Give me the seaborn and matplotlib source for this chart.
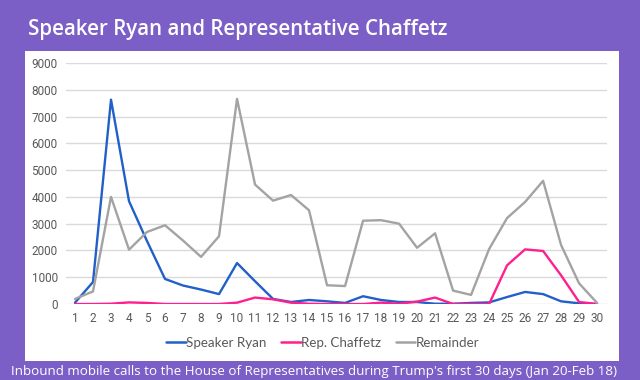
import numpy as np
import pandas as pd
import matplotlib
matplotlib.use("Agg")
import matplotlib.pyplot as plt
from matplotlib.patches import Rectangle
from matplotlib.lines import Line2D
import seaborn as sns

days = list(range(1, 31))

speaker_ryan = [50, 820, 7630, 3840, 2350, 935, 690, 540, 370, 1530,
                850, 190, 75, 150, 100, 40, 290, 150, 75, 75,
                10, 10, 40, 60, 260, 450, 370, 100, 25, 0]
rep_chaffetz = [0, 0, 10, 60, 40, 0, 0, 0, 0, 50,
                240, 175, 50, 10, 0, 0, 0, 50, 10, 90,
                240, 0, 0, 0, 1445, 2040, 1980, 1070, 75, 0]
remainder = [190, 470, 4000, 2030, 2690, 2940, 2370, 1760, 2530, 7660,
             4460, 3860, 4070, 3500, 700, 670, 3110, 3130, 3000, 2100,
             2640, 500, 340, 2050, 3210, 3810, 4600, 2200, 770, 40]

series_names = ["Speaker Ryan", "Rep. Chaffetz", "Remainder"]
series_colors = ["#2160C8", "#FF1F8E", "#A3A3A3"]

title_text = "Speaker Ryan and Representative Chaffetz"
caption_text = ("Inbound mobile calls to the House of Representatives "
                "during Trump's first 30 days (Jan 20-Feb 18)")

df = pd.DataFrame({
    "day": days * 3,
    "calls": speaker_ryan + rep_chaffetz + remainder,
    "series": [n for n in series_names for _ in days],
})

sns.set_theme(style="white")
plt.rcParams["font.family"] = ["Open Sans", "DejaVu Sans"]

purple = "#7B5FC7"
fig = plt.figure(figsize=(6.4, 3.8), dpi=100, facecolor=purple)

# white panel behind the chart
fig.patches.append(Rectangle((25 / 640, 19 / 380), 594 / 640, 310 / 380,
                             transform=fig.transFigure, facecolor="white",
                             edgecolor="none", zorder=-5))

ax = fig.add_axes([66 / 640, 76 / 380, 541 / 640, 241 / 380])
ax.set_zorder(2)
ax.set_facecolor("none")

sns.lineplot(data=df, x="day", y="calls", hue="series",
             palette=dict(zip(series_names, series_colors)),
             linewidth=1.7, ax=ax, legend=False, zorder=3)

ax.set_xlim(0.5, 30.55)
ax.set_ylim(0, 9000)
ax.set_yticks(range(0, 9001, 1000))
ax.set_xticks(days)
ax.set_xticklabels([str(d) for d in days])
ax.grid(axis="y", color="#DADADA", linewidth=1)
ax.grid(axis="x", visible=False)
sns.despine(ax=ax, left=True, bottom=True)
ax.tick_params(axis="both", length=0, labelsize=8.5, labelcolor="#595959",
               pad=6)
for lbl in ax.get_xticklabels() + ax.get_yticklabels():
    lbl.set_fontfamily("Roboto")
ax.set_xlabel("")
ax.set_ylabel("")

handles = [Line2D([], [], color=c, linewidth=1.8) for c in series_colors]
leg = fig.legend(handles, series_names, loc="center", ncol=3,
                 bbox_to_anchor=(323 / 640, 1 - 343 / 380), frameon=False,
                 handlelength=1.45, handletextpad=0.05, columnspacing=1.1,
                 prop={"family": "Lato", "size": 9.6}, labelcolor="#595959")
leg.set_zorder(3)

fig.text(28 / 640, 1 - 29 / 380, title_text, color="white", fontsize=14.8,
         ha="left", va="center", fontweight="semibold")
fig.text(314 / 640, 1 - 372 / 380, caption_text, color="white",
         fontsize=9.6, ha="center", va="center")

fig.savefig("out.png", dpi=100, facecolor=purple)
